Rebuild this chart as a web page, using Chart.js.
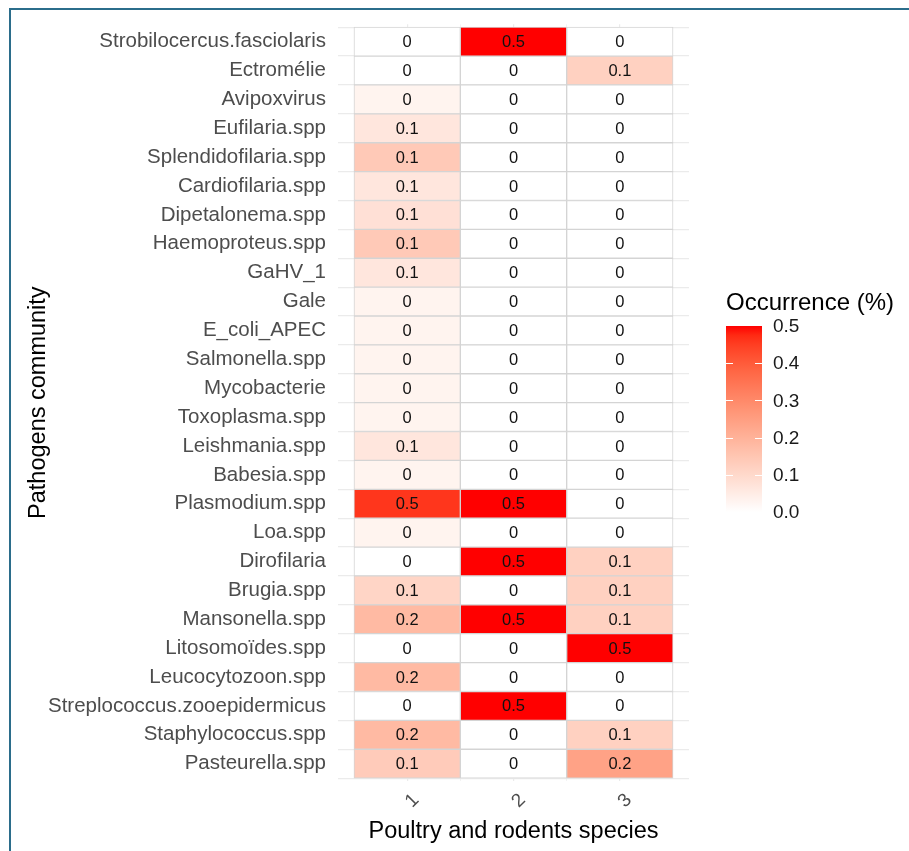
<!DOCTYPE html>
<html>
<head>
<meta charset="utf-8">
<script src="https://cdn.jsdelivr.net/npm/chart.js@4.4.1/dist/chart.umd.min.js"></script>
<style>
  html, body { margin: 0; padding: 0; background: #fff; }
  #wrap { position: relative; width: 909px; height: 851px; }
  #frame {
    position: absolute; left: 9px; top: 8px; right: 0; bottom: 0;
    border-left: 2px solid #2b6d8b; border-top: 2px solid #2b6d8b;
    pointer-events: none;
  }
</style>
</head>
<body>
<div id="wrap">
  <canvas id="myChart" width="909" height="851"></canvas>
  <div id="frame"></div>
</div>
<script>
// rows, top to bottom
const pathogens = [
  "Strobilocercus.fasciolaris", "Ectromélie", "Avipoxvirus", "Eufilaria.spp",
  "Splendidofilaria.spp", "Cardiofilaria.spp", "Dipetalonema.spp", "Haemoproteus.spp",
  "GaHV_1", "Gale", "E_coli_APEC", "Salmonella.spp", "Mycobacterie",
  "Toxoplasma.spp", "Leishmania.spp", "Babesia.spp", "Plasmodium.spp", "Loa.spp",
  "Dirofilaria", "Brugia.spp", "Mansonella.spp", "Litosomoïdes.spp",
  "Leucocytozoon.spp", "Streplococcus.zooepidermicus", "Staphylococcus.spp", "Pasteurella.spp"
];
const species = ["1", "2", "3"];

// occurrence per species column
const occ1 = [0, 0, 0.03, 0.065, 0.14, 0.065, 0.08, 0.14, 0.065, 0.03, 0.03, 0.03, 0.03,
  0.03, 0.065, 0.03, 0.46, 0.03, 0, 0.11, 0.18, 0, 0.18, 0, 0.18, 0.135];
const occ2 = [0.5, 0, 0, 0, 0, 0, 0, 0, 0, 0, 0, 0, 0,
  0, 0, 0, 0.5, 0, 0.5, 0, 0.5, 0, 0, 0.5, 0, 0];
const occ3 = [0, 0.12, 0, 0, 0, 0, 0, 0, 0, 0, 0, 0, 0,
  0, 0, 0, 0, 0, 0.12, 0.12, 0.12, 0.5, 0, 0, 0.12, 0.24];

const legendTicks = [0, 0.1, 0.2, 0.3, 0.4, 0.5];
const occMax = 0.5;

//------------------------------------------
// white -> red, interpolated in CIELAB like ggplot's gradient
function fillColor(v) {
  const t = Math.max(0, Math.min(1, v / occMax));
  const L = 100 + (53.24 - 100) * t, A = 80.09 * t, B = 67.2 * t;
  const fy = (L + 16) / 116, fx = fy + A / 500, fz = fy - B / 200;
  const inv = (f) => (f > 6 / 29 ? f * f * f : 3 * (6 / 29) * (6 / 29) * (f - 4 / 29));
  const X = 0.95047 * inv(fx), Y = inv(fy), Z = 1.08883 * inv(fz);
  const lin = [
    3.2406 * X - 1.5372 * Y - 0.4986 * Z,
    -0.9689 * X + 1.8758 * Y + 0.0415 * Z,
    0.0557 * X - 0.204 * Y + 1.057 * Z,
  ];
  const rgb = lin.map((c) => {
    c = Math.max(0, Math.min(1, c));
    const s = c <= 0.0031308 ? 12.92 * c : 1.055 * Math.pow(c, 1 / 2.4) - 0.055;
    return Math.round(s * 255);
  });
  return "rgb(" + rgb.join(",") + ")";
}

const fmt = (v) => String(Number(v.toFixed(1)));

//------------------------------------------
const cellText = {
  id: "cellText",
  afterDatasetsDraw(chart) {
    const ctx = chart.ctx;
    ctx.save();
    ctx.font = '16.5px "Liberation Sans", Arial, sans-serif';
    ctx.fillStyle = "#111";
    ctx.textAlign = "center";
    ctx.textBaseline = "middle";
    chart.data.datasets.forEach((ds, di) => {
      chart.getDatasetMeta(di).data.forEach((bar, i) => {
        const p = bar.getCenterPoint();
        ctx.fillText(fmt(ds.data[i].v), p.x, p.y + 1);
      });
    });
    ctx.restore();
  },
};

const colorBar = {
  id: "colorBar",
  afterDraw(chart) {
    const ctx = chart.ctx;
    const x = 726, w = 36, top = 326, bottom = 512;
    const yOf = (v) => bottom - (v / occMax) * (bottom - top);
    ctx.save();
    const g = ctx.createLinearGradient(0, bottom, 0, top);
    for (let k = 0; k <= 20; k++) g.addColorStop(k / 20, fillColor((k / 20) * occMax));
    ctx.fillStyle = g;
    ctx.fillRect(x, top, w, bottom - top);
    ctx.strokeStyle = "#fff";
    ctx.lineWidth = 1;
    legendTicks.forEach((v) => {
      if (v === 0 || v === occMax) return;
      const y = Math.round(yOf(v)) + 0.5;
      ctx.beginPath();
      ctx.moveTo(x, y); ctx.lineTo(x + 7, y);
      ctx.moveTo(x + w - 7, y); ctx.lineTo(x + w, y);
      ctx.stroke();
    });
    ctx.fillStyle = "#1a1a1a";
    ctx.font = '19px "Liberation Sans", Arial, sans-serif';
    ctx.textAlign = "left";
    ctx.textBaseline = "middle";
    legendTicks.forEach((v) => ctx.fillText(v.toFixed(1), 773, yOf(v) + 1));
    ctx.fillStyle = "#000";
    ctx.font = '24px "Liberation Sans", Arial, sans-serif';
    ctx.fillText("Occurrence (%)", 726, 303);
    ctx.restore();
  },
};

//------------------------------------------
const columns = [occ1, occ2, occ3];
const datasets = columns.map((vals, c) => ({
  label: species[c],
  data: pathogens.map((p, i) => ({ y: i + 1, x: [c + 0.5, c + 1.5], v: vals[i] })),
  backgroundColor: (ctx) => fillColor(ctx.raw ? ctx.raw.v : 0),
  borderColor: "#d4d4d4",
  borderWidth: 1,
  borderSkipped: false,
  barPercentage: 1,
  categoryPercentage: 1,
  grouped: false,
}));

const axisFont = { family: '"Liberation Sans", Arial, sans-serif', size: 20.5 };
const titleFont = { family: '"Liberation Sans", Arial, sans-serif', size: 23.5 };

const myChart = new Chart(document.getElementById("myChart"), {
  type: "bar",
  data: { datasets },
  options: {
    indexAxis: "y",
    responsive: false,
    animation: false,
    events: [],
    layout: { padding: { left: 24, top: 21, right: 220, bottom: 0 } },
    plugins: { legend: { display: false }, tooltip: { enabled: false } },
    scales: {
      y: {
        type: "linear",
        reverse: true,
        offset: false,
        min: 0.4,
        max: 26.6,
        afterBuildTicks: (s) => { s.ticks = pathogens.map((p, i) => ({ value: i + 1 })); },
        afterFit: (s) => { s.width = 314; },
        ticks: {
          callback: (v) => pathogens[v - 1] || "",
          autoSkip: false,
          font: axisFont,
          color: "#4d4d4d",
          padding: 12,
        },
        grid: { color: "#ebebeb", lineWidth: 1.2, drawTicks: false },
        border: { display: false },
        title: {
          display: true,
          text: "Pathogens community",
          font: titleFont,
          color: "#000",
          padding: { top: 0, bottom: 0 },
        },
      },
      x: {
        type: "linear",
        min: 0.35,
        max: 3.65,
        afterBuildTicks: (s) => { s.ticks = [1, 1.5, 2, 2.5, 3].map((v) => ({ value: v })); },
        afterFit: (s) => { s.height = 70; },
        ticks: {
          callback: (v) => (Number.isInteger(v) ? species[v - 1] : ""),
          autoSkip: false,
          minRotation: 45,
          maxRotation: 45,
          font: { family: axisFont.family, size: 19 },
          color: "#4d4d4d",
          padding: 8,
          labelOffset: 9,
        },
        grid: {
          color: "#ebebeb",
          lineWidth: (ctx) => (ctx.tick && Number.isInteger(ctx.tick.value) ? 1.2 : 0.6),
          drawTicks: false,
        },
        border: { display: false },
        title: {
          display: true,
          text: "Poultry and rodents species",
          font: titleFont,
          color: "#000",
          padding: { top: 0, bottom: 5 },
        },
      },
    },
  },
  plugins: [cellText, colorBar],
});
</script>
</body>
</html>
